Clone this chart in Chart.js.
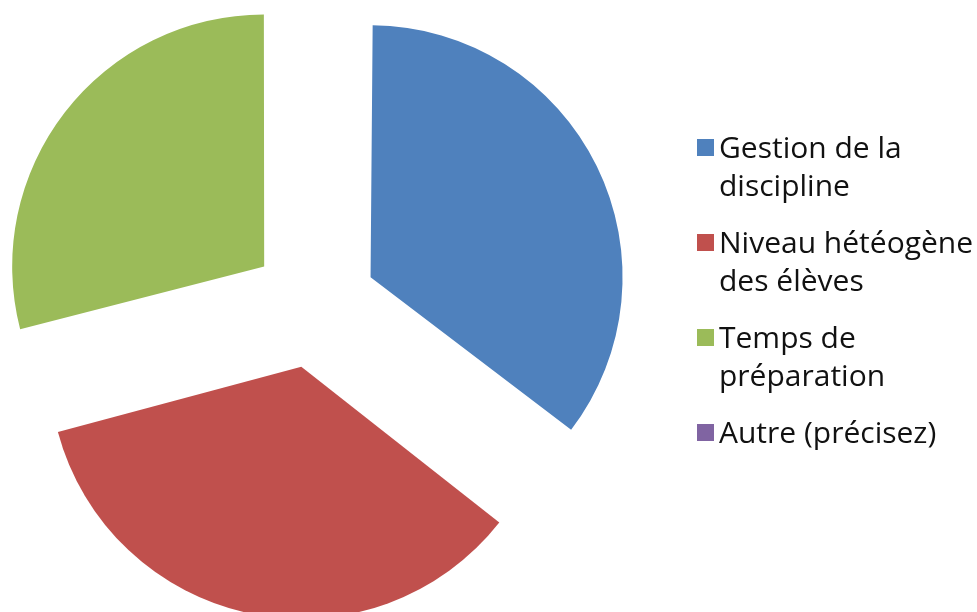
<!DOCTYPE html>
<html>
<head>
<meta charset="utf-8">
<script src="https://cdn.jsdelivr.net/npm/chart.js@4"></script>
<style>
  body { margin: 0; background: #fff; }
  #wrap { position: relative; width: 977px; height: 612px; overflow: hidden; }
  #legend { position: absolute; left: 697px; top: 128px; font-family: "Open Sans", sans-serif; font-size: 30px; color: #111; }
  .item { display: flex; align-items: flex-start; margin-bottom: 19px; }
  .box { width: 17px; height: 17px; margin-top: 11px; margin-right: 5px; flex: none; }
  .txt { line-height: 38px; white-space: nowrap; }
</style>
</head>
<body>
<div id="wrap">
  <canvas id="myChart" width="977" height="612"></canvas>
  <div id="legend"></div>
</div>
<script>
// categories (legend lines as shown in the picture)
const categories = ["Gestion de la discipline", "Niveau hétéogène des élèves", "Temps de préparation", "Autre (précisez)"];
const legendLines = [["Gestion de la", "discipline"], ["Niveau hétéogène", "des élèves"], ["Temps de", "préparation"], ["Autre (précisez)"]];
const values = [11, 11, 9, 0];
const colors = ["#4F81BD", "#C0504D", "#9BBB59", "#8064A2"];

const pieRadius = 252;
const explode = 63; // how far each slice is pushed out

// keep every slice at the same radius (chart.js grows the arc a bit when offset is used)
const radiusFix = {
  id: "radiusFix",
  afterDatasetsUpdate(chart) {
    chart.getDatasetMeta(0).data.forEach((arc) => {
      const fix = 1 - Math.sin(Math.min(Math.PI, arc.circumference));
      arc.outerRadius = pieRadius - (explode) * fix;
    });
  },
};

const ctx = document.getElementById("myChart");
new Chart(ctx, {
  type: "pie",
  data: {
    labels: categories,
    datasets: [
      {
        data: values,
        backgroundColor: colors,
        borderWidth: 0,
        offset: explode * 4,
        clip: false,
      },
    ],
  },
  options: {
    responsive: false,
    animation: false,
    radius: pieRadius,
    layout: { padding: { right: 349, bottom: 2 } },
    plugins: {
      legend: { display: false },
      tooltip: { enabled: false },
    },
  },
  plugins: [radiusFix],
});

// legend
const legend = document.getElementById("legend");
legendLines.forEach((lines, i) => {
  const item = document.createElement("div");
  item.className = "item";
  const box = document.createElement("div");
  box.className = "box";
  box.style.background = colors[i];
  const txt = document.createElement("div");
  txt.className = "txt";
  txt.innerHTML = lines.join("<br>");
  item.appendChild(box);
  item.appendChild(txt);
  legend.appendChild(item);
});
</script>
</body>
</html>
